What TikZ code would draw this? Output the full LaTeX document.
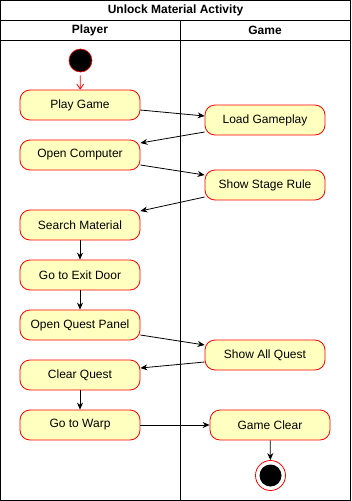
\documentclass[tikz,border=0pt]{standalone}
\usepackage{fontspec}
\setmainfont{Liberation Sans}
\usetikzlibrary{calc,arrows.meta}
\definecolor{actfill}{HTML}{FFFFC0}
\definecolor{actline}{HTML}{FF0000}
\tikzset{
  action/.style={draw=actline, fill=actfill, rounded corners=10pt, minimum width=120pt,
    minimum height=30pt, inner sep=0pt, font=\fontsize{12}{14}\selectfont, line width=0.8pt},
  flow/.style={-{Stealth[length=7pt,width=6pt]}, line width=0.8pt},
  startflow/.style={draw=actline, -{Straight Barb[length=5pt,width=7pt]}, line width=0.8pt, shorten <=3pt},
  lane/.style={line width=0.8pt},
  head/.style={font=\bfseries\fontsize{12}{14}\selectfont}
}
\begin{document}
\begin{tikzpicture}[x=1pt,y=-1pt]
  \useasboundingbox (0,0) rectangle (351,501);
  % swimlane frame
  \draw[lane] (0.5,0.5) rectangle (350.5,500.5);
  \draw[lane] (0.5,20) -- (350.5,20);
  \draw[lane] (0.5,40) -- (350.5,40);
  \draw[lane] (180,20) -- (180,500.5);
  \node[head] (title) at (175.5,10) {Unlock Material Activity};
  \node[head] (player) at (90,30) {Player};
  \node[head] (game) at (265,30) {Game};

  % start and end
  \node[circle, fill=black, draw=actline, line width=0.6pt, minimum size=23pt, inner sep=0pt] (start) at (80.5,60.5) {};
  \node[circle, fill=white, draw=actline, line width=0.8pt, minimum size=30pt, inner sep=0pt] (end) at (270.5,475.5) {};
  \node[circle, fill=black, minimum size=22pt, inner sep=0pt] (endin) at (270.5,475.5) {};

  % actions
  \node[action] (play) at (80,105) {Play Game};
  \node[action] (load) at (265,120) {Load Gameplay};
  \node[action] (comp) at (80,155) {Open Computer};
  \node[action] (rule) at (265,185) {Show Stage Rule};
  \node[action] (search) at (80,225) {Search Material};
  \node[action] (exit) at (80,275) {Go to Exit Door};
  \node[action] (panel) at (80,325) {Open Quest Panel};
  \node[action] (allq) at (265,355) {Show All Quest};
  \node[action] (clearq) at (80,375) {Clear Quest};
  \node[action] (warp) at (80,425) {Go to Warp};
  \node[action] (gclear) at (270,425) {Game Clear};

  % control flow
  \draw[startflow] (start) -- (play);
  \draw[flow] ($(play.east)+(0,5)$) -- ($(load.west)+(0,-4)$);
  \draw[flow] ($(load.west)+(0,12)$) -- ($(comp.east)+(0,-12)$);
  \draw[flow] ($(comp.east)+(0,10)$) -- ($(rule.west)+(0,-10)$);
  \draw[flow] ($(rule.west)+(0,12)$) -- ($(search.east)+(0,-14)$);
  \draw[flow] (search) -- (exit);
  \draw[flow] (exit) -- (panel);
  \draw[flow] ($(panel.east)+(0,10)$) -- ($(allq.west)+(0,-10)$);
  \draw[flow] ($(allq.west)+(0,7)$) -- ($(clearq.east)+(0,-7)$);
  \draw[flow] (clearq) -- (warp);
  \draw[flow] (warp) -- (gclear);
  \draw[flow] (gclear) -- (end);
\end{tikzpicture}
\end{document}
